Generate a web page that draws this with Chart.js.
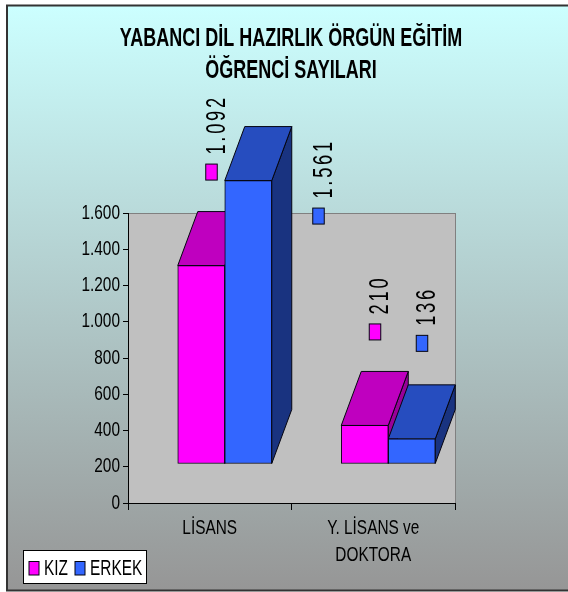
<!DOCTYPE html>
<html><head><meta charset="utf-8">
<style>html,body{margin:0;padding:0;background:#fff}canvas{display:block}</style>
<script src="https://cdn.jsdelivr.net/npm/chart.js@4"></script>
</head><body>
<canvas id="c" width="568" height="592"></canvas>
<script>
const titleLines = ['YABANCI DİL HAZIRLIK ÖRGÜN EĞİTİM', 'ÖĞRENCİ SAYILARI'];
const categories = ['LİSANS', ['Y. LİSANS ve', 'DOKTORA']];
const seriesNames = ['KIZ', 'ERKEK'];
const kizValues = [1092, 210];
const erkekValues = [1561, 136];
const yMax = 1600;
const yStep = 200;

const SANS = '"Liberation Sans", Arial, sans-serif';
const palette = [
  {front:'#FF00FF', top:'#BF00BF', side:'#990099'},
  {front:'#3366FF', top:'#264DBF', side:'#193380'}
];
const depthX = 20, depthY = 54, edge = '#050510';
const plotHeight = 290, floorLift = 39.5, barShift = 15, bandWidth = 163.5;
const liftUnits = floorLift * yMax / plotHeight;
const shiftUnits = barShift / bandWidth;
const fmt = v => String(v).replace(/\B(?=(\d{3})+$)/g, '.');

/* The reference uses horizontally condensed Arial: squeeze all canvas text around its anchor. */
const canvas = document.getElementById('c');
const rawCtx = canvas.getContext('2d');
const rawFill = rawCtx.fillText.bind(rawCtx);
rawCtx.fillText = function (t, x, y) {
  const k = rawCtx.font.startsWith('bold') ? 0.72 : 0.77;
  rawCtx.save();
  rawCtx.translate(x, y);
  rawCtx.scale(k, 1);
  rawFill(t, 0, 0);
  rawCtx.restore();
};

const frame = {
  id: 'frame',
  afterLayout(chart) {
    chart.titleBlock.left = chart.chartArea.left - 1;
    chart.titleBlock.right = chart.chartArea.right;
  },
  beforeDraw(chart) {
    const {ctx, width, height, chartArea: a} = chart;
    ctx.save();
    ctx.fillStyle = '#fff'; ctx.fillRect(0, 0, width, height);
    const g = ctx.createLinearGradient(0, 6, 0, 590);
    g.addColorStop(0, '#CCFFFF'); g.addColorStop(1, '#969696');
    ctx.fillStyle = g; ctx.fillRect(7, 5, width - 7, 586);
    ctx.strokeStyle = '#333'; ctx.lineWidth = 2;
    ctx.beginPath(); ctx.moveTo(width + 2, 5.5); ctx.lineTo(7, 5.5); ctx.lineTo(7, 590.5); ctx.lineTo(width + 2, 590.5); ctx.stroke();
    ctx.fillStyle = '#C0C0C0'; ctx.fillRect(a.left, a.top, a.width, a.height);
    ctx.strokeStyle = '#808080'; ctx.lineWidth = 1;
    ctx.strokeRect(a.left + .5, a.top + .5, a.width, a.height);
    ctx.restore();
  }
};

function face(ctx, pts, fill) {
  ctx.beginPath();
  pts.forEach((p, i) => i ? ctx.lineTo(p[0], p[1]) : ctx.moveTo(p[0], p[1]));
  ctx.closePath();
  ctx.fillStyle = fill; ctx.fill();
  ctx.strokeStyle = edge; ctx.lineWidth = 1; ctx.stroke();
}

const depth = {
  id: 'depth',
  beforeDatasetsDraw(chart) {
    const ctx = chart.ctx;
    ctx.save();
    chart.data.datasets.forEach((ds, d) => {
      chart.getDatasetMeta(d).data.forEach(el => {
        const x0 = el.x - el.width / 2, x1 = el.x + el.width / 2, t = el.y, b = el.base;
        face(ctx, [[x1, t], [x1 + depthX, t - depthY], [x1 + depthX, b - depthY], [x1, b]], palette[d].side);
        face(ctx, [[x0, t], [x1, t], [x1 + depthX, t - depthY], [x0 + depthX, t - depthY]], palette[d].top);
      });
    });
    ctx.restore();
  }
};

const labelNudges = [{dataset: 1, index: 0, dx: 60, dy: 129}, {dataset: 1, index: 1, dx: 0, dy: -2}];
const valueLabels = {
  id: 'valueLabels',
  afterDatasetsDraw(chart) {
    const ctx = chart.ctx;
    chart.data.datasets.forEach((ds, d) => {
      chart.getDatasetMeta(d).data.forEach((el, i) => {
        const m = labelNudges.find(n => n.dataset === d && n.index === i) || {dx: 0, dy: 0};
        const kx = el.x + 4.5 + m.dx, ky = el.y - depthY - 47.5 + m.dy;
        ctx.save();
        ctx.fillStyle = palette[d].front; ctx.strokeStyle = edge; ctx.lineWidth = 1;
        ctx.fillRect(kx, ky, 11.5, 16); ctx.strokeRect(kx, ky, 11.5, 16);
        ctx.translate(kx + 19, ky - 9.5);
        ctx.rotate(-Math.PI / 2);
        ctx.scale(.68, 1);
        ctx.letterSpacing = '4px';
        ctx.font = '27px ' + SANS; ctx.fillStyle = '#000';
        ctx.textAlign = 'left'; ctx.textBaseline = 'alphabetic';
        rawFill(fmt(ds.data[i].y), 0, 0);
        ctx.restore();
      });
    });
  }
};

const legendBox = {
  id: 'legendBox',
  afterDraw(chart) {
    const ctx = chart.ctx;
    ctx.save();
    ctx.fillStyle = '#fff'; ctx.strokeStyle = '#000'; ctx.lineWidth = 1;
    ctx.fillRect(23.5, 550.5, 123, 33); ctx.strokeRect(23.5, 550.5, 123, 33);
    ctx.textBaseline = 'alphabetic';
    ctx.textAlign = 'left';
    ctx.font = '22px ' + SANS;
    let x = 29;
    chart.data.datasets.forEach((ds, d) => {
      ctx.fillStyle = palette[d].front; ctx.strokeStyle = edge;
      ctx.fillRect(x, 561.5, 10, 13.5); ctx.strokeRect(x, 561.5, 10, 13.5);
      ctx.fillStyle = '#000';
      ctx.save();
      ctx.translate(x + 15, 575);
      ctx.scale(.7, 1);
      rawFill(ds.label, 0, 0);
      ctx.restore();
      x += 46;
    });
    ctx.restore();
  }
};

const toPoints = vals => vals.map((v, i) => ({x: i, y: v}));

new Chart(canvas, {
  type: 'bar',
  data: {
    labels: categories,
    datasets: [
      {label: seriesNames[0], data: toPoints(kizValues), backgroundColor: palette[0].front},
      {label: seriesNames[1], data: toPoints(erkekValues), backgroundColor: palette[1].front}
    ].map(d => Object.assign(d, {xAxisID: 'x2', yAxisID: 'y2', clip: false, barThickness: 47, borderWidth: 1, borderColor: edge, borderSkipped: false}))
  },
  plugins: [frame, depth, valueLabels, legendBox],
  options: {
    responsive: false,
    animation: false,
    layout: {padding: {left: 60, right: 113, top: 0, bottom: 0}},
    plugins: {
      legend: {display: false},
      tooltip: {enabled: false},
      title: {
        display: true, text: titleLines, color: '#000',
        font: {family: SANS, size: 25, weight: 'bold', lineHeight: 1.28},
        padding: {top: 23, bottom: 126}
      }
    },
    scales: {
      x: {
        type: 'category', labels: categories, offset: true,
        afterFit(s) { s.height = 89; },
        border: {color: '#000'},
        grid: {drawOnChartArea: false, tickLength: 7, color: '#000'},
        ticks: {color: '#000', maxRotation: 0, autoSkip: false, padding: 5, font: {family: SANS, size: 20, lineHeight: 1.35}}
      },
      y: {
        min: 0, max: yMax,
        afterFit(s) { s.width = 68; },
        border: {color: '#000'},
        grid: {drawOnChartArea: false, tickLength: 5, color: '#000'},
        ticks: {stepSize: yStep, color: '#000', padding: 3, callback: fmt, font: {family: SANS, size: 20}}
      },
      x2: {type: 'linear', display: false, offset: false, min: -0.5 - shiftUnits, max: 1.5 - shiftUnits},
      y2: {type: 'linear', display: false, min: -liftUnits, max: yMax - liftUnits}
    }
  }
});
</script>
</body></html>
